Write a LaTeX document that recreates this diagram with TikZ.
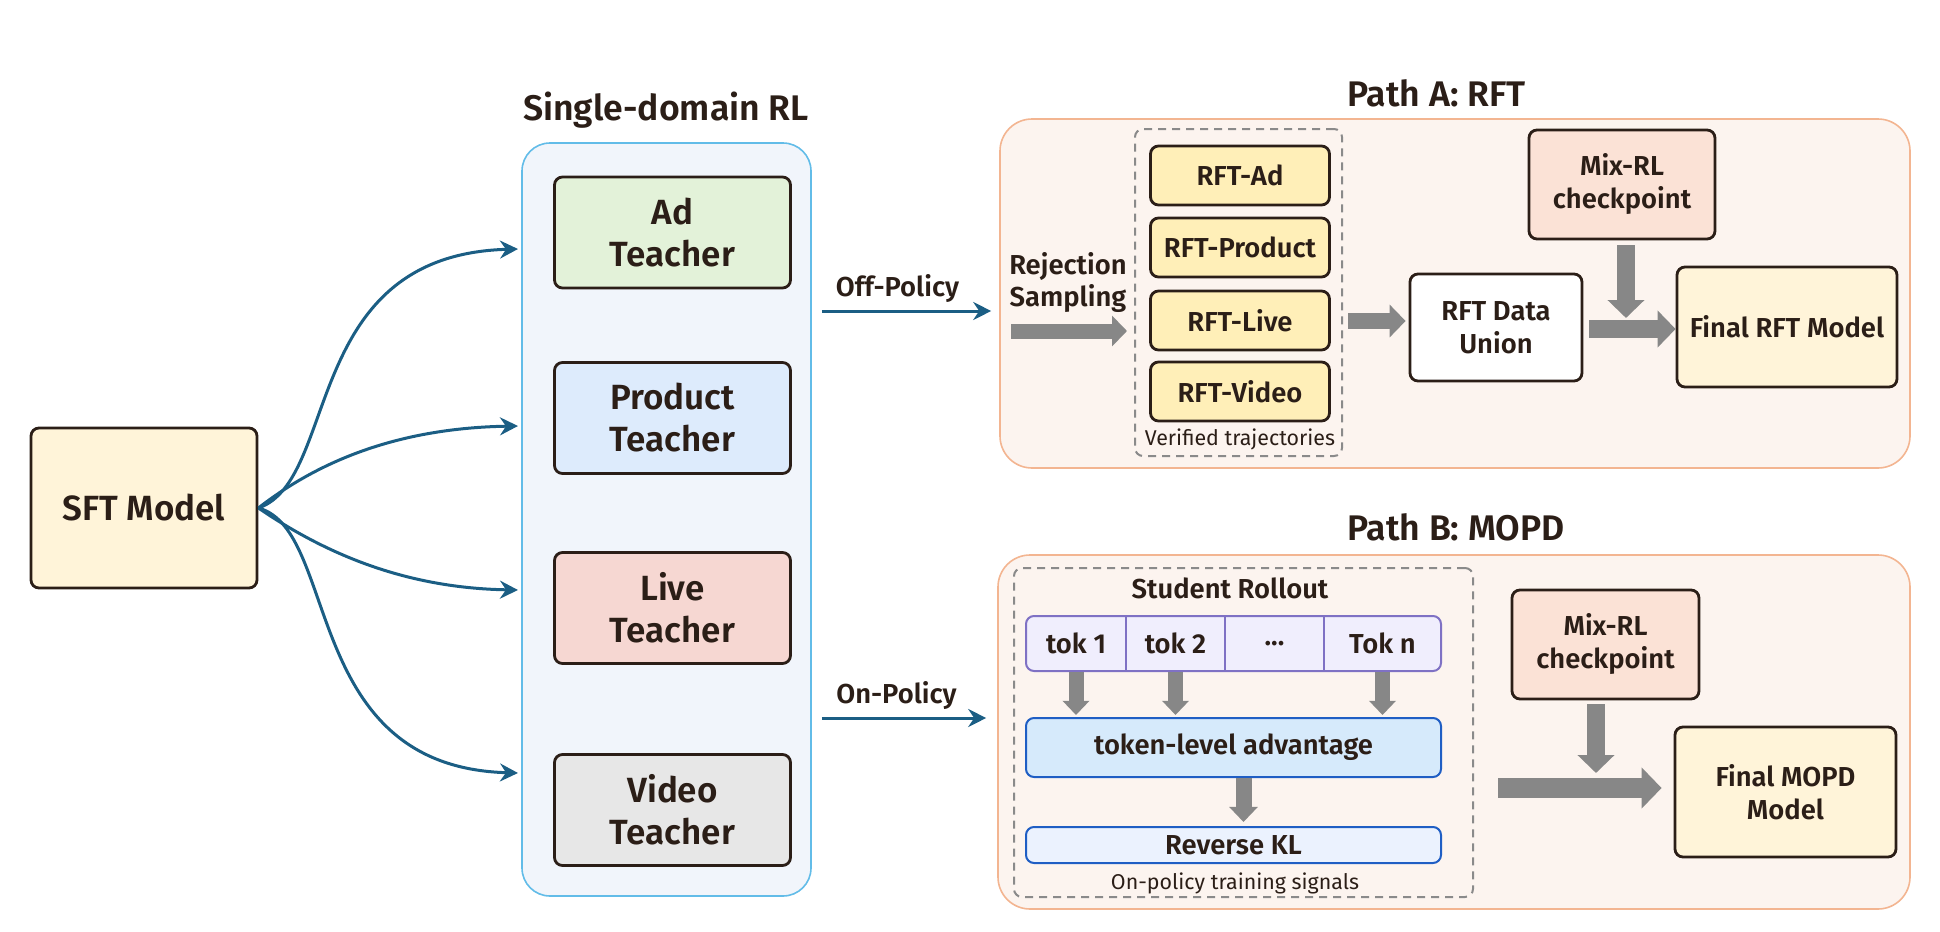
\documentclass[tikz,border=0pt]{standalone}
\usepackage{fontspec}
\setmainfont{Fira Sans}[BoldFont={Fira Sans SemiBold}]
\usetikzlibrary{arrows.meta}
\definecolor{ink}{HTML}{2B1E17}
\definecolor{flowblue}{HTML}{1B5E84}
\definecolor{rlblue}{HTML}{62BCE8}
\definecolor{rlfill}{HTML}{F1F5FB}
\definecolor{orng}{HTML}{F3B591}
\definecolor{pfill}{HTML}{FCF4EF}
\definecolor{dashgray}{HTML}{8A8A8A}
\definecolor{fatgray}{HTML}{878787}
\definecolor{cream}{HTML}{FFF4D9}
\definecolor{adgreen}{HTML}{E3F2D9}
\definecolor{prodblue}{HTML}{DDEBFC}
\definecolor{livered}{HTML}{F6D7D2}
\definecolor{vidgray}{HTML}{E7E7E7}
\definecolor{rftyel}{HTML}{FFEFB8}
\definecolor{mixpink}{HTML}{FBE2D6}
\definecolor{tokpurple}{HTML}{7F71C4}
\definecolor{tokfill}{HTML}{F0EEFD}
\definecolor{advblue}{HTML}{1F5EC4}
\definecolor{advfill}{HTML}{D6EAFB}
\definecolor{rklfill}{HTML}{EBF2FE}
\begin{document}
\begin{tikzpicture}[x=0.5pt,y=-0.5pt,
    box/.style={draw=ink,line width=1.4pt,rounded corners=4pt,align=center,text=ink,inner sep=0pt,font=\bfseries\fontsize{17.5}{21}\selectfont},
    pbox/.style={box,font=\bfseries\fontsize{13.7}{16.5}\selectfont},
    panel/.style={draw=#1,line width=0.8pt,inner sep=0pt},
    dashbox/.style={draw=dashgray,line width=1pt,dash pattern=on 4pt off 3pt,rounded corners=4pt,inner sep=0pt},
    flow/.style={draw=flowblue,line width=1.5pt,-{Stealth[length=9pt,width=9pt,inset=3pt]}},
    fat/.style={draw=fatgray,line width=#1,-{Triangle[length=0pt 1,width=0pt 2]}},
    tokarr/.style={fat=#1,-{Triangle[length=0pt 0.95,width=0pt 1.75]}},
    lbl/.style={text=ink,align=center,font=\bfseries\fontsize{13.7}{16}\selectfont},
    ttl/.style={text=ink,inner sep=0pt,font=\bfseries\fontsize{17.8}{21}\selectfont},
    note/.style={text=ink,font=\fontsize{10.7}{13}\selectfont}]
\useasboundingbox (0,0) rectangle (1940,932);

    %Contenedores
    \node[panel=rlblue,fill=rlfill,rounded corners=14pt,minimum width=144.5pt,minimum height=376.5pt] (rl) at (666.5,519.5) {};
    \node[ttl] (rltit) at (666,110) {Single-domain RL};
    \node[panel=orng,fill=pfill,rounded corners=16pt,minimum width=455pt,minimum height=174.5pt] (pathA) at (1455,293.5) {};
    \node[ttl,anchor=west] (titA) at (1347,93) {Path A: RFT};
    \node[panel=orng,fill=pfill,rounded corners=16pt,minimum width=456pt,minimum height=177pt] (pathB) at (1454,732) {};
    \node[ttl,anchor=west] (titB) at (1347,527) {Path B: MOPD};

    %Modelo base y maestros
    \node[box,fill=cream,minimum width=113pt,minimum height=80pt] (sft) at (144,508) {SFT Model};
    \foreach \n/\txt/\c/\y in {ad/Ad/adgreen/232.5,prod/Product/prodblue/418,live/Live/livered/608,video/Video/vidgray/810}{
        \node[box,fill=\c,minimum width=118pt,minimum height=55.5pt] (\n) at (672.5,\y) {\txt\\Teacher};
    }
    \coordinate (inAd) at (518,249);
    \coordinate (inProd) at (518,426);
    \coordinate (inLive) at (518,590);
    \coordinate (inVideo) at (518,773);
    \draw[flow] (sft.east) .. controls (340,480) and (300,255) .. (inAd);
    \draw[flow] (sft.east) .. controls (320,460) and (400,428) .. (inProd);
    \draw[flow] (sft.east) .. controls (320,550) and (400,588) .. (inLive);
    \draw[flow] (sft.east) .. controls (340,530) and (300,767) .. (inVideo);

    %Off-Policy / On-Policy
    \draw[flow,shorten <=5pt,shorten >=4pt] (rl.east |- 0,311) -- (pathA.west |- 0,311) node[midway,above,lbl,xshift=-4pt] (offp) {Off-Policy};
    \draw[flow,shorten <=5pt,shorten >=5.5pt] (rl.east |- 0,718) -- (pathB.west |- 0,718) node[midway,above,lbl,xshift=-4pt] (onp) {On-Policy};

    %Path A
    \node[dashbox,minimum width=103.5pt,minimum height=163.5pt] (verA) at (1238.5,292.5) {};
    \foreach \n/\txt/\y in {rad/RFT-Ad/175.5,rprod/RFT-Product/247.5,rlive/RFT-Live/320.5,rvid/RFT-Video/391.5}{
        \node[pbox,fill=rftyel,minimum width=89.5pt,minimum height=29.5pt] (\n) at (1240,\y) {\txt};
    }
    \node[note] (verlab) at (1240,439) {Verified trajectories};
    \node[lbl,inner sep=0pt] (rej) at (1068,283) {Rejection\\Sampling};
    \coordinate (rsIn) at (1011,331);
    \draw[fat=7.5pt,shorten >=3.5pt] (rsIn) -- (verA.west |- rsIn);
    \node[pbox,fill=white,minimum width=86pt,minimum height=53.5pt] (union) at (1496,327.5) {RFT Data\\Union};
    \draw[fat=8pt,shorten <=2.5pt,shorten >=1.5pt] (verA.east |- 0,321) -- (union.west |- 0,321);
    \node[pbox,fill=mixpink,minimum width=93pt,minimum height=54.5pt] (mixA) at (1622,184.5) {Mix-RL\\checkpoint};
    \node[pbox,fill=cream,minimum width=110pt,minimum height=60pt] (finA) at (1787,327) {Final RFT Model};
    \draw[fat=9pt,shorten <=3pt] (union.east |- 0,329) -- (finA.west |- 0,329);
    \draw[fat=9pt,shorten <=2.5pt] ([xshift=2pt]mixA.south) -- ([xshift=2pt]mixA.south |- 0,318);

    %Path B
    \node[dashbox,minimum width=229.5pt,minimum height=164.5pt] (stuB) at (1243.5,732.5) {};
    \node[lbl] (sroll) at (1230,588) {Student Rollout};
    \node[draw=tokpurple,fill=tokfill,line width=1pt,rounded corners=4pt,inner sep=0pt,minimum width=207.5pt,minimum height=27.5pt] (row) at (1233.5,643.5) {};
    \foreach \n/\txt/\x in {t1/tok 1/1076,t2/tok 2/1175.5,tn/Tok n/1382.5}{
        \node[lbl] (\n) at (\x,643.5) {\txt};
    }
    \node[lbl] (tdots) at (1274.5,643.5) {...};
    \foreach \x in {1126,1225,1324}{
        \draw[tokpurple,line width=1pt] (row.north -| \x,0) -- (row.south -| \x,0);
    }
    \node[pbox,draw=advblue,line width=1pt,fill=advfill,minimum width=207.5pt,minimum height=29.5pt] (adv) at (1233.5,747.5) {token-level advantage};
    \node[pbox,draw=advblue,line width=1pt,fill=rklfill,minimum width=207.5pt,minimum height=18pt] (rkl) at (1233.5,845) {Reverse KL};
    \foreach \n in {t1,t2,tn}{
        \draw[tokarr=7.5pt,shorten >=1pt] (\n |- row.south) -- (\n |- adv.north);
    }
    \draw[tokarr=8pt,shorten >=2pt] ([xshift=5pt]adv.south) -- ([xshift=5pt]rkl.north);
    \node[note] (onsig) at (1235,883) {On-policy training signals};
    \node[pbox,fill=mixpink,minimum width=93.5pt,minimum height=54.5pt] (mixB) at (1605.5,644.5) {Mix-RL\\checkpoint};
    \node[pbox,fill=cream,minimum width=110.5pt,minimum height=65pt] (finB) at (1785.5,792) {Final MOPD\\Model};
    \coordinate (mergeB) at (1596,773);
    \coordinate (srcB) at (1498,788);
    \draw[fat=9pt,shorten <=2pt] (mixB.south -| mergeB) -- (mergeB);
    \draw[fat=10pt,shorten >=6pt] (srcB) -- (finB.west |- srcB);
\end{tikzpicture}
\end{document}
